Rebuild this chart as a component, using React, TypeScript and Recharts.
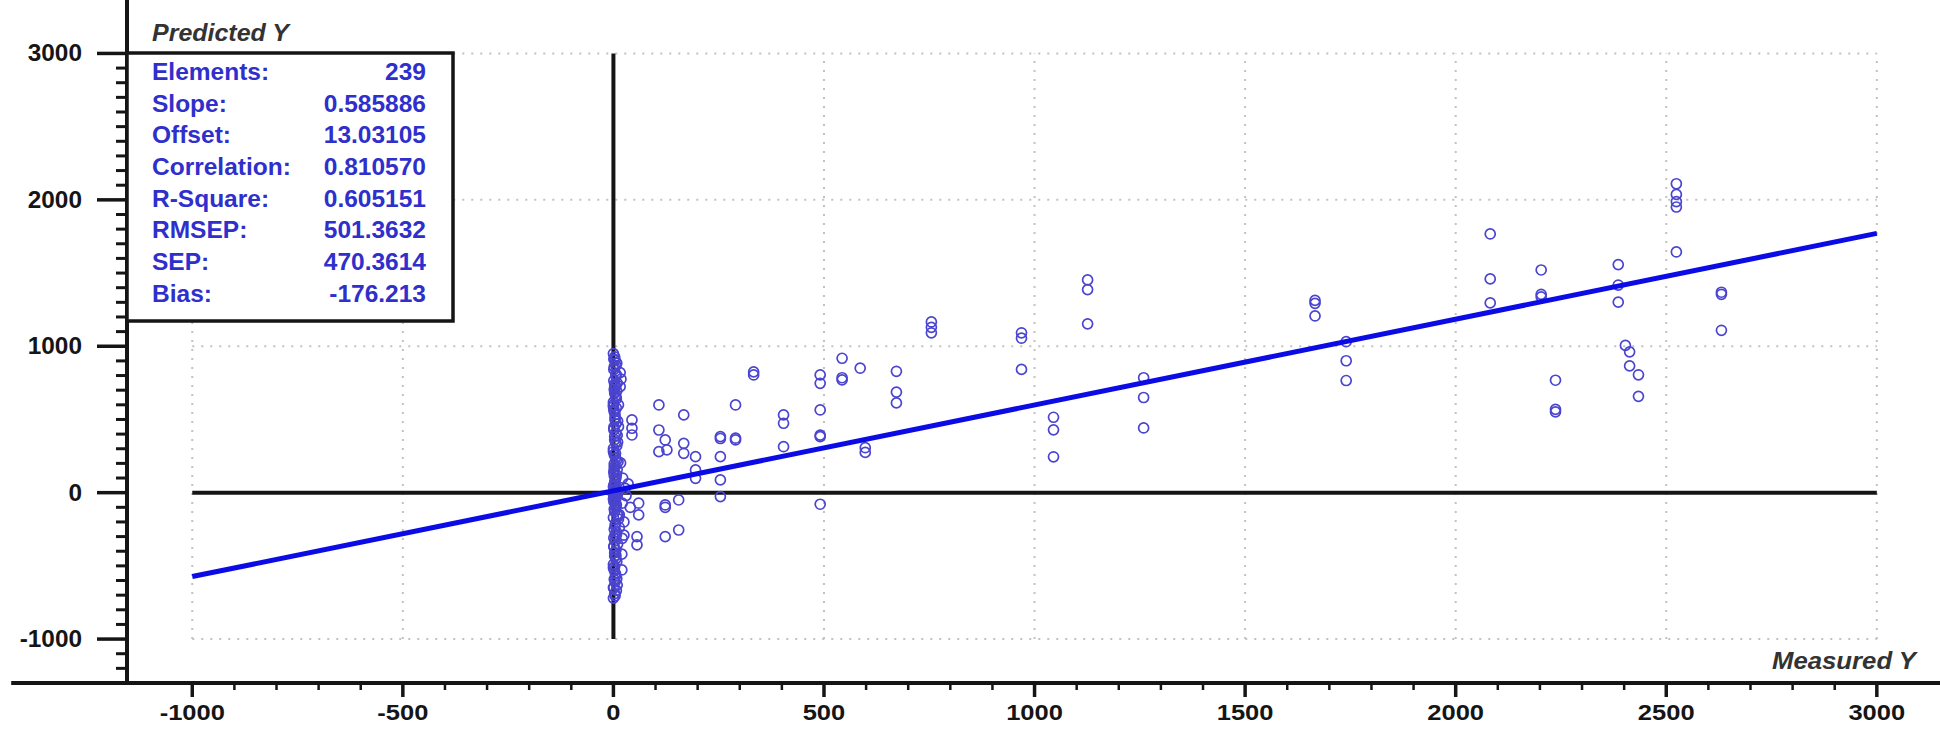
import { ScatterChart, Scatter, XAxis, YAxis, ReferenceLine } from "recharts";

const zeroMeasured = [
  0, 4, 2, 6, 1, 5, 3, 7, 0, 2, 4, 6, 1, 3, 5, 0, 2, 7, 4, 1, 6, 3,
  0, 5, 2, 4, 1, 6, 3, 0, 5, 2, 7, 4, 1, 3, 6, 0, 2, 5, 4, 1, 3, 0,
  16, 18, 16, 12, 17, 21, 21, 25, 20, 22, 28, 30, 14, 12, 20, 25, 35, 40,
];
const zeroPredicted = [
  950, 905, 860, 810, 765, 720, 680, 640, 600, 555, 510, 470, 430, 385, 345, 300, 260, 220, 180, 140, 100, 70,
  40, 15, -10, -35, -60, -95, -130, -170, -210, -250, -290, -330, -370, -410, -450, -490, -530, -570, -610, -650, -690, -720,
  820, 775, 724, 451, 203, -72, -312, -290, -528, 100, 30, -20, -150, 600, -420, -200, 60, -100,
];
// more of the dense smear along the vertical zero line
const smearMeasured = [
  3, 8, 1, 6, 9, 2, 5, 0, 7, 4, 10, 1, 6, 3, 8, 0, 5, 2, 9, 7, 4, 1, 6, 11, 3, 8, 0, 5,
  2, 9, 12, 4, 7, 1, 10, 6, 3, 14, 8, 0, 5, 13, 2, 9, 7, 4, 11, 1, 6, 3, 8, 0, 10, 5, 2,
  9, 7, 4, 1, 6, 3, 8, 0, 5, 2, 9, 4, 1, 6, 3, 7, 0, 5, 2, 4,
];
const smearPredicted = [
  928, 884, 842, 795, 748, 705, 662, 618, 577, 533, 489, 447, 406, 362, 322, 281, 238, 196, 158, 121, 83, 52, 26, 8, -5, -22, -44, -71,
  -112, -148, -181, -226, -268, -309, -351, -392, -433, -238, -471, -512, -553, -160, -592, -631, -668, -704, 212, 912, 868, 742, 694, 587, 345, 268, 176,
  -18, -83, -287, -366, -428, -505, -587, -648, 45, 118, 392, 497, 568, 652, 728, 803, -12, -54, 155, 22,
];

// The rest of the samples
const spreadMeasured = [
  44, 44, 44, 60, 60, 56, 56, 108, 108, 108, 123, 127, 123, 123, 155, 155, 123,
  167, 167, 167, 195, 195, 195, 254, 254, 254, 254, 254, 290, 290, 290, 333, 333,
  404, 404, 404, 491, 491, 491, 491, 491, 491, 543, 543, 543, 586, 598, 598,
  672, 672, 672, 755, 755, 755, 969, 969, 969, 1045, 1045, 1045, 1126, 1126, 1126,
  1259, 1259, 1259, 1666, 1666, 1666, 1740, 1740, 1740, 2082, 2082, 2082,
  2203, 2203, 2203, 2237, 2237, 2237, 2386, 2386, 2386, 2403, 2413, 2413, 2434, 2434,
  2524, 2524, 2524, 2524, 2524, 2631, 2631, 2631,
];
const spreadPredicted = [
  497, 440, 394, -72, -152, -300, -357, 599, 428, 280, 360, 292, -84, -100, -50, -255, -300,
  531, 337, 269, 246, 155, 98, 383, 370, 246, 87, -27, 599, 360, 372, 804, 825,
  531, 474, 314, 804, 747, 565, 393, 383, -79, 918, 770, 785, 850, 307, 275,
  829, 687, 613, 1166, 1129, 1092, 1092, 1055, 842, 515, 429, 245, 1453, 1387, 1153,
  785, 650, 442, 1313, 1293, 1207, 1031, 901, 766, 1767, 1460, 1296,
  1521, 1355, 1337, 768, 569, 552, 1558, 1418, 1301, 1006, 962, 866, 805, 658,
  2110, 2037, 1988, 1951, 1644, 1369, 1355, 1109,
];

// Regression line end points
const fitMeasured = [-1000, 3000];
const fitPredicted = [-573, 1771];

const statLabels = ["Elements:", "Slope:", "Offset:", "Correlation:", "R-Square:", "RMSEP:", "SEP:", "Bias:"];
const statValues = ["239", "0.585886", "13.03105", "0.810570", "0.605151", "501.3632", "470.3614", "-176.213"];

const xMajorTicks = [-1000, -500, 0, 500, 1000, 1500, 2000, 2500, 3000];
const yMajorTicks = [-1000, 0, 1000, 2000, 3000];
const gridX = [-1000, -500, 500, 1000, 1500, 2000, 2500, 3000];
const gridY = [-1000, 1000, 2000, 3000];

const range = (a: number, b: number, step: number) => {
  const out: number[] = [];
  for (let v = a; v <= b; v += step) out.push(v);
  return out;
};
const xTicks = range(-1000, 3000, 100);
const yTicks = range(-1200, 3000, 100);

const zip = (xs: number[], ys: number[]) => xs.map((x, i) => ({ x, y: ys[i] }));
const points = [
  ...zip(zeroMeasured, zeroPredicted),
  ...zip(smearMeasured, smearPredicted),
  ...zip(spreadMeasured, spreadPredicted),
];
const fit = zip(fitMeasured, fitPredicted);

const FONT = "'Liberation Sans', Arial, sans-serif";
const INK = "#151515";

// rough Arial widths for number labels
const numWidth = (s: string, size: number) =>
  s.split("").reduce((a, c) => a + (c === "-" ? 0.333 : c === "." ? 0.278 : 0.556), 0) * size;

const XTick = (props: any) => {
  const { x, y, payload } = props;
  const v = payload.value;
  const major = xMajorTicks.includes(v);
  const s = String(v);
  return (
    <g>
      <line x1={x} x2={x} y1={y} y2={y + (major ? 14 : 7)} stroke={INK} strokeWidth={major ? 3.5 : 2.5} />
      {major && (
        <text
          x={x}
          y={y + 37}
          textAnchor="middle"
          fontFamily={FONT}
          fontWeight="bold"
          fontSize={22}
          fill={INK}
          textLength={numWidth(s, 22) * 1.16}
          lengthAdjust="spacingAndGlyphs"
        >
          {s}
        </text>
      )}
    </g>
  );
};

const YTick = (props: any) => {
  const { x, y, payload } = props;
  const v = payload.value;
  const major = yMajorTicks.includes(v);
  const s = String(v);
  return (
    <g>
      <line x1={x - (major ? 30 : 11)} x2={x} y1={y} y2={y} stroke={INK} strokeWidth={major ? 3.5 : 3} />
      {major && (
        <text
          x={x - 45}
          y={y + 8}
          textAnchor="end"
          fontFamily={FONT}
          fontWeight="bold"
          fontSize={23}
          fill={INK}
          textLength={numWidth(s, 23) * 1.06}
          lengthAdjust="spacingAndGlyphs"
        >
          {s}
        </text>
      )}
    </g>
  );
};

const Ring = (p: any) => (
  <circle cx={p.cx} cy={p.cy} r={5} fill="none" stroke="#4a44d0" strokeWidth={1.7} />
);

export default function App() {
  return (
    <div style={{ position: "absolute", left: 0, top: 0, width: 1940, height: 735, background: "#fff" }}>
      <ScatterChart width={1940} height={735} margin={{ top: 0, right: 0, left: 10, bottom: 10 }}>
        <XAxis
          type="number"
          dataKey="x"
          domain={[-1155, 3150]}
          allowDataOverflow
          ticks={xTicks}
          interval={0}
          height={42}
          tickSize={0}
          tickMargin={0}
          tickLine={false}
          axisLine={{ stroke: INK, strokeWidth: 4 }}
          tick={<XTick />}
        />
        <YAxis
          type="number"
          dataKey="y"
          domain={[-1300, 3365]}
          allowDataOverflow
          ticks={yTicks}
          interval={0}
          width={117}
          tickSize={0}
          tickMargin={0}
          tickLine={false}
          axisLine={{ stroke: INK, strokeWidth: 4 }}
          tick={<YTick />}
        />
        {gridX.map((v) => (
          <ReferenceLine
            key={"gx" + v}
            segment={[{ x: v, y: -1000 }, { x: v, y: 3000 }]}
            stroke="#c2c2c2"
            strokeWidth={2}
            strokeDasharray="2 7"
          />
        ))}
        {gridY.map((v) => (
          <ReferenceLine
            key={"gy" + v}
            segment={[{ x: -1000, y: v }, { x: 3000, y: v }]}
            stroke="#c2c2c2"
            strokeWidth={2}
            strokeDasharray="2 7"
          />
        ))}
        <ReferenceLine segment={[{ x: -1000, y: 0 }, { x: 3000, y: 0 }]} stroke={INK} strokeWidth={4} />
        <ReferenceLine segment={[{ x: 0, y: -1000 }, { x: 0, y: 3000 }]} stroke={INK} strokeWidth={4} />
        <ReferenceLine
          segment={[{ x: -1430, y: -1300 }, { x: -1155, y: -1300 }]}
          stroke={INK}
          strokeWidth={4}
          ifOverflow="visible"
        />
        <Scatter data={points} shape={<Ring />} isAnimationActive={false} />
        <Scatter
          data={fit}
          shape={() => <g />}
          line={{ stroke: "#0b0be6", strokeWidth: 5 }}
          isAnimationActive={false}
        />
      </ScatterChart>

      <svg width={1940} height={735} style={{ position: "absolute", left: 0, top: 0, pointerEvents: "none" }}>
        <text
          x={152}
          y={41}
          fontFamily={FONT}
          fontWeight="bold"
          fontStyle="italic"
          fontSize={23}
          fill="#333"
          textLength={137}
          lengthAdjust="spacingAndGlyphs"
        >
          Predicted Y
        </text>
        <rect x={127} y={53} width={326} height={268} fill="#fff" stroke={INK} strokeWidth={3.5} />
        {statLabels.map((l, i) => (
          <text key={l} x={152} y={80 + i * 31.67} fontFamily={FONT} fontWeight="bold" fontSize={24.5} fill="#2f2fcc">
            {l}
          </text>
        ))}
        {statValues.map((v, i) => (
          <text
            key={i}
            x={426}
            y={80 + i * 31.67}
            textAnchor="end"
            fontFamily={FONT}
            fontWeight="bold"
            fontSize={24.5}
            fill="#2f2fcc"
          >
            {v}
          </text>
        ))}
        <text
          x={1916}
          y={669}
          textAnchor="end"
          fontFamily={FONT}
          fontWeight="bold"
          fontStyle="italic"
          fontSize={23}
          fill="#333"
          textLength={144}
          lengthAdjust="spacingAndGlyphs"
        >
          Measured Y
        </text>
      </svg>
    </div>
  );
}
